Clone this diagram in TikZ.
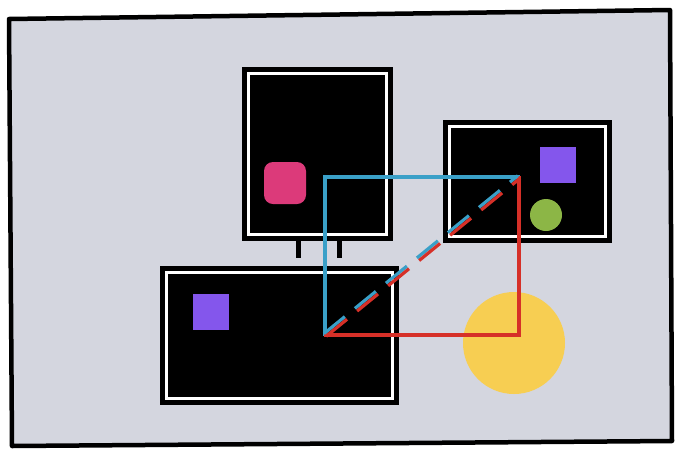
\documentclass[tikz,border=0pt]{standalone}
\usetikzlibrary{calc}
\definecolor{paper}{RGB}{212,214,223}
\definecolor{lblue}{RGB}{58,160,200}
\definecolor{lred}{RGB}{214,48,40}
\definecolor{pinkc}{RGB}{220,58,122}
\definecolor{purp}{RGB}{132,86,236}
\definecolor{grn}{RGB}{140,182,70}
\definecolor{yel}{RGB}{247,206,82}
\tikzset{
  boxnode/.style={rectangle, fill=black, draw=black, line width=1.5pt, inner sep=0pt},
  innerline/.style={draw=white, line width=2.6pt},
  leg/.style={rectangle, fill=black, inner sep=0pt, minimum width=5pt, minimum height=18pt},
  sq/.style={rectangle, fill=purp, inner sep=0pt, minimum size=36pt},
  bline/.style={lblue, line width=3.6pt},
  rline/.style={lred, line width=3.6pt},
  dashdiag/.style={line width=3.2pt, dash pattern=on 27pt off 13pt},
}
\begin{document}
\begin{tikzpicture}[x=1pt,y=-1pt]
\useasboundingbox (0,0) rectangle (675,448);
\fill[white] (0,0) rectangle (675,448);
% frame
\filldraw[fill=paper, draw=black, line width=4.5pt, line join=round]
  (9,19) -- (670,10) -- (672,441) -- (12,446) -- cycle;
% boxes
\node[boxnode, minimum width=150pt, minimum height=173pt] (topbox) at (317.5,154) {};
\node[boxnode, minimum width=168pt, minimum height=122pt] (rbox) at (527.5,181.5) {};
\node[boxnode, minimum width=238pt, minimum height=138pt] (lbox) at (279.5,335.5) {};
\foreach \b in {topbox,rbox,lbox}
  \draw[innerline] ($(\b.north west)+(7,7)$) rectangle ($(\b.south east)+(-7,-7)$);
% legs
\node[leg] (leg1) at (298.5,249) {};
\node[leg] (leg2) at (339.5,249) {};
% shapes
\node[rectangle, rounded corners=9pt, fill=pinkc, inner sep=0pt, minimum size=42pt] (pink) at (285,183) {};
\node[sq] (sq1) at (557.5,164.5) {};
\node[sq] (sq2) at (211,312) {};
\node[circle, fill=grn, inner sep=0pt, minimum size=32pt] (gc) at (546,215) {};
\node[circle, fill=yel, inner sep=0pt, minimum size=102pt] (yc) at (514,343) {};
% connectors
\coordinate (A) at (325,335);
\coordinate (B) at (325,177);
\coordinate (C) at (519,177);
\coordinate (D) at (519,335);
\draw[bline, line join=miter] ($(A)+(0,1)$) -- (B) -- ($(C)+(1,0)$);
\draw[rline, line join=miter] ($(A)+(-1,0)$) -- (D) -- ($(C)+(0,-1)$);
\draw[dashdiag, lblue] ($(A)+(-1.1,-1.3)$) -- ($(C)+(-1.1,-1.3)$);
\draw[dashdiag, lred] ($(A)+(1.1,1.3)$) -- ($(C)+(1.1,1.3)$);
\end{tikzpicture}
\end{document}
